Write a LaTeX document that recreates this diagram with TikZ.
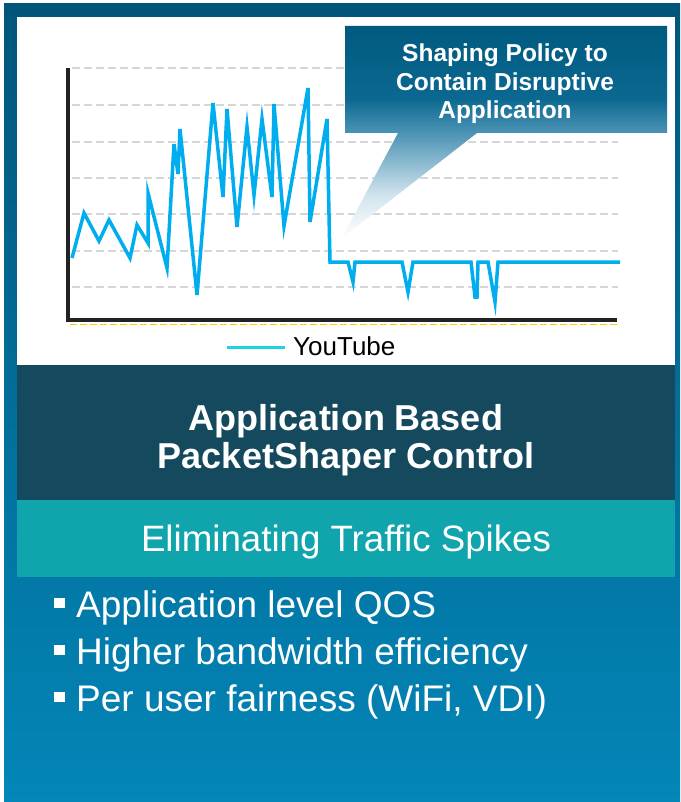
\documentclass[tikz,border=0pt]{standalone}
\usepackage{fontspec}
\setmainfont{Liberation Sans}
\usepackage{tikz}
\usetikzlibrary{calc}
\usepackage{xcolor}

\definecolor{frametop}{HTML}{00567A}
\definecolor{framebot}{HTML}{0386B8}
\definecolor{darkband}{HTML}{15495D}
\definecolor{tealband}{HTML}{10A4AD}
\definecolor{calloutblue}{HTML}{005A80}
\definecolor{calloutmid}{HTML}{0B6890}
\definecolor{calloutlow}{HTML}{4A92B4}
\definecolor{callouttip}{HTML}{D2E5EE}
\definecolor{tubeblue}{HTML}{00AEEF}
\definecolor{legendcyan}{HTML}{1CD4E4}
\definecolor{gridgray}{HTML}{D6D6D6}
\definecolor{axisgray}{HTML}{222222}
\definecolor{axisyellow}{HTML}{FFCC00}

\pgfdeclareverticalshading{calloutfade}{100bp}{color(0bp)=(white); color(25bp)=(white); color(35bp)=(callouttip); color(50bp)=(calloutlow); color(58bp)=(calloutmid); color(75bp)=(calloutblue); color(100bp)=(calloutblue)}

\newcommand{\sqbullet}{\rule[9pt]{11pt}{10pt}\hspace{11pt}}

\begin{document}
\begin{tikzpicture}[x=1pt, y=-1pt,
            every node/.style = {inner sep=0pt, text=white},
            titletext/.style = {font=\bfseries\fontsize{36}{39}\selectfont, anchor=base},
            bandtext/.style = {font=\fontsize{36.7}{39}\selectfont, anchor=base},
            bullettext/.style = {font=\fontsize{37}{40}\selectfont, anchor=base west},
            callouttext/.style = {font=\bfseries\fontsize{24.5}{28}\selectfont, anchor=base},
            gridline/.style = {gridgray, line width=2.6pt, dash pattern=on 8pt off 4pt},
            axisline/.style = {axisgray, line width=4pt},
            ]
            \useasboundingbox (0,0) rectangle (680,802);
            \fill[white] (0,0) rectangle (680,802);
            \shade[top color=frametop, bottom color=framebot] (4,4) rectangle (680,802);
            \fill[white] (17,17) rectangle (675,365);
            \fill[darkband] (17,365) rectangle (675,500);
            \fill[tealband] (17,500) rectangle (675,577);

            \foreach \gy in {68,105,142,178,214,251,287}
                \draw[gridline] (72,\gy) -- (618,\gy);
            \draw[axisyellow, line width=1.5pt, dash pattern=on 7pt off 3pt] (70,324.5) -- (618,324.5);
            \coordinate (ytop) at (68,68);
            \coordinate (origin) at (68,320);
            \coordinate (xend) at (617,320);
            \draw[axisline] (ytop) -- (origin) -- (xend);

            \draw[tubeblue, line width=3.5pt, line join=miter]
                (72,258) -- (84,213) -- (99,241) -- (109,220) -- (130,258) -- (137,225)
                -- (148,243) -- (148,193) -- (167,268) -- (174,144) -- (178,174) -- (180,129)
                -- (197,295) -- (213,103) -- (223,197) -- (227,109) -- (237,227) -- (247,127)
                -- (254,195) -- (262,119) -- (272,197) -- (274,104) -- (284,226) -- (308,88)
                -- (310,222) -- (327,119) -- (330,262) -- (348,262) -- (353,282) -- (355,262)
                -- (402,262) -- (408,292) -- (413,262) -- (471,262) -- (475,297) -- (477,297)
                -- (478,262) -- (488,262) -- (495,302) -- (498,262) -- (620,262);

            \shade[shading=calloutfade] (345,26) -- (667,26) -- (667,133) -- (477,133)
                -- (342,238) -- (398,133) -- (345,133) -- cycle;
            \node[callouttext] (policy1) at (505,62) {Shaping Policy to};
            \node[callouttext] (policy2) at (505,91) {Contain Disruptive};
            \node[callouttext] (policy3) at (505,119) {Application};

            \coordinate (legstart) at (227,347);
            \coordinate (legend) at (285,347);
            \draw[legendcyan, line width=3pt] (legstart) -- (legend);
            \node[anchor=base west, text=black, font=\fontsize{26}{28}\selectfont] (youtube) at (293,355) {YouTube};

            \node[titletext] (title1) at (346,430) {Application Based};
            \node[titletext] (title2) at (346,468) {PacketShaper Control};
            \node[bandtext] (spikes) at (346,551) {Eliminating Traffic Spikes};

            \node[bullettext] (qos) at (54,617) {\sqbullet Application level QOS};
            \node[bullettext] (bandwidth) at (54,664) {\sqbullet Higher bandwidth efficiency};
            \node[bullettext] (fairness) at (54,711) {\sqbullet Per user fairness (WiFi, VDI)};
        \end{tikzpicture}
\end{document}
